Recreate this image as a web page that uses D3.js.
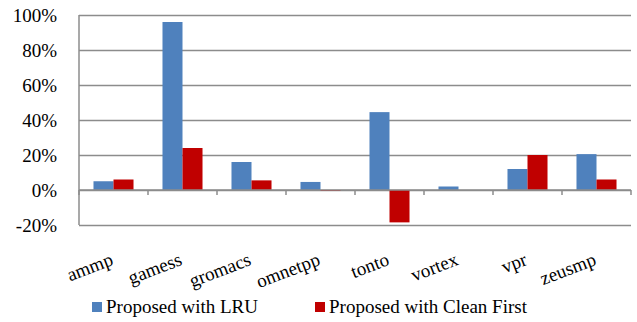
<!DOCTYPE html>
<html>
<head>
<meta charset="utf-8">
<script src="https://cdn.jsdelivr.net/npm/d3@7/dist/d3.min.js"></script>
<style>
  html, body { margin: 0; padding: 0; background: #fff; }
</style>
</head>
<body>
<svg id="chart" width="637" height="322"></svg>
<script>
// Benchmarks on the category axis
const categories = ["ammp", "gamess", "gromacs", "omnetpp", "tonto", "vortex", "vpr", "zeusmp"];
// Improvement per benchmark, in percent
const lruValues = [5, 96, 16, 4.6, 44.5, 2, 12, 20.5];
const cleanFirstValues = [6, 24, 5.5, -0.5, -18.5, 0, 20, 6];
const seriesNames = ["Proposed with LRU", "Proposed with Clean First"];
const seriesColors = ["#4F81BD", "#C00000"];
const yTicks = [-20, 0, 20, 40, 60, 80, 100];

const fontStack = "'Liberation Serif', 'Times New Roman', Times, 'DejaVu Serif', serif";

const svg = d3.select("#chart");
const plotLeft = 79, plotRight = 631, plotTop = 15, plotBottom = 225;

const y = d3.scaleLinear().domain([-20, 100]).range([plotBottom, plotTop]);
const x = d3.scaleBand().domain(categories).range([plotLeft, plotRight])
  .paddingInner(0.42).paddingOuter(0.21);
const xs = d3.scaleBand().domain([0, 1]).range([0, x.bandwidth()]);

const gridColor = "#8c8c8c";

// Horizontal gridlines with percentage labels
const yAxis = d3.axisLeft(y).tickValues(yTicks)
  .tickSize(-(plotRight - plotLeft)).tickPadding(22)
  .tickFormat(d => d + "%");
const gy = svg.append("g").attr("transform", `translate(${plotLeft},0)`).call(yAxis)
  .attr("font-family", null).attr("font-size", null);
gy.select(".domain").remove();
gy.selectAll(".tick line").attr("stroke", gridColor).attr("stroke-width", 1.5);
gy.selectAll(".tick text")
  .style("font-family", fontStack).style("font-size", "19px").attr("fill", "#000");

// Vertical value axis line
svg.append("line")
  .attr("x1", plotLeft).attr("x2", plotLeft).attr("y1", plotTop).attr("y2", plotBottom)
  .attr("stroke", gridColor).attr("stroke-width", 1.5);

// Bars
const data = categories.map((c, i) => ({ c, v: [lruValues[i], cleanFirstValues[i]] }));
const groups = svg.append("g").selectAll("g").data(data).join("g")
  .attr("transform", d => `translate(${x(d.c)},0)`);
groups.selectAll("rect").data(d => d.v.map((v, k) => ({ v, k }))).join("rect")
  .attr("x", d => xs(d.k))
  .attr("width", xs.bandwidth())
  .attr("y", d => y(Math.max(0, d.v)))
  .attr("height", d => Math.abs(y(d.v) - y(0)))
  .attr("fill", d => seriesColors[d.k]);

// Category axis on the zero line, ticks between categories
const boundaries = d3.range(categories.length + 1).map(i => plotLeft + i * x.step());
svg.append("line")
  .attr("x1", plotLeft).attr("x2", plotRight).attr("y1", y(0)).attr("y2", y(0))
  .attr("stroke", gridColor).attr("stroke-width", 1.5);
svg.append("g").selectAll("line").data(boundaries).join("line")
  .attr("x1", d => d).attr("x2", d => d)
  .attr("y1", y(0)).attr("y2", y(0) + 5)
  .attr("stroke", gridColor).attr("stroke-width", 1.5);

// Rotated category labels below the plot
svg.append("g").selectAll("text").data(categories).join("text")
  .attr("transform", d => `translate(${x(d) + x.bandwidth() / 2 - 4},${plotBottom + 27}) rotate(-21)`)
  .attr("text-anchor", "end")
  .attr("dy", "0.7em")
  .style("font-family", fontStack).style("font-size", "19px")
  .text(d => d);

// Legend
const legendX = [92, 315];
const lg = svg.append("g").selectAll("g").data(seriesNames).join("g")
  .attr("transform", (d, i) => `translate(${legendX[i]},302)`);
lg.append("rect").attr("width", 10).attr("height", 10)
  .attr("fill", (d, i) => seriesColors[i]);
lg.append("text").attr("x", 14).attr("y", 11)
  .style("font-family", fontStack).style("font-size", "19px")
  .text(d => d);
</script>
</body>
</html>
